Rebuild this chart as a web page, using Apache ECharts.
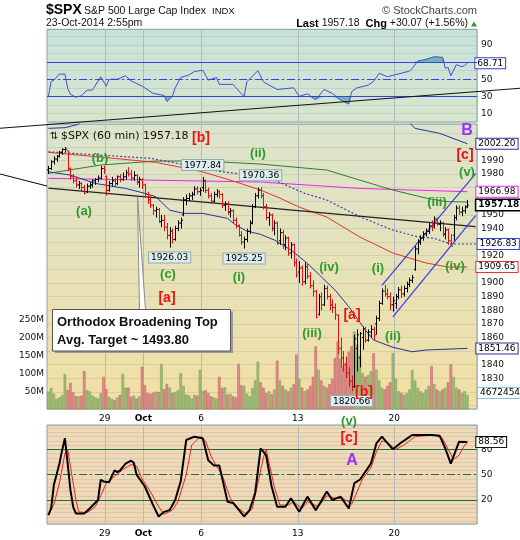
<!DOCTYPE html>
<html><head><meta charset="utf-8">
<script src="https://cdn.jsdelivr.net/npm/echarts@6/dist/echarts.min.js"></script>
<style>html,body{margin:0;padding:0;background:#fff}#c{width:520px;height:540px}</style>
</head><body><div id="c"></div><script>
// ---------------- data ----------------
const days = ['24','25','26','29','30','Oct','2','3','6','7','8','9','10','13','14','15','16','17','20','21','22','23'];
const labelDays = ['29','Oct','6','13','20'];

const open = [1983,1984,1989,1991,1993,1996,1998, 1997,1984,1978,1975,1972,1973,1970, 1967,1971,1972,1975,1976,1977,1984,
 1978,1968,1973,1975,1973,1978,1976, 1978,1981,1980,1977,1979,1974,1976, 1972,1965,1961,1957,1953,1954,1945,
 1946,1941,1935,1938,1932,1940,1944, 1950,1961,1962,1964,1965,1969,1967, 1970,1975,1968,1964,1960,1965,1967,
 1965,1957,1958,1952,1953,1946,1942, 1935,1930,1932,1938,1944,1956,1964, 1968,1964,1956,1948,1950,1940,1944,
 1931,1937,1928,1933,1922,1928,1915, 1908,1911,1901,1912,1905,1898,1894, 1877,1890,1884,1896,1890,1884,1882,
 1876,1852,1845,1840,1834,1828,1824, 1852,1845,1860,1866,1858,1864,1866, 1870,1874,1885,1894,1892,1890,1884,
 1885,1890,1895,1892,1896,1899,1902, 1910,1925,1930,1933,1936,1938,1942, 1942,1947,1943,1944,1936,1939,1931,
 1935,1948,1955,1952,1953,1956];
const high = [1986,1990,1993,1994,1997,1999,1999.8, 1997,1985,1980,1978,1975,1974,1972, 1973,1974,1976,1977,1979,1986,1986,
 1979,1975,1978,1977,1979,1980,1981, 1983,1985,1983,1982,1980,1978,1977, 1973,1967,1964,1958,1956,1955,1950,
 1950,1944,1941,1940,1942,1946,1948, 1963,1965,1966,1967,1971,1971,1970, 1977.84,1976,1970,1966,1967,1969,1968,
 1966,1960,1960,1955,1954,1948,1943, 1938,1934,1940,1946,1958,1966,1970, 1970.36,1966,1958,1952,1951,1946,1945,
 1940,1939,1935,1934,1930,1929,1918, 1916,1913,1915,1914,1908,1902,1895, 1892,1893,1898.7,1898,1892,1888,1885,
 1877,1860,1850,1846,1838,1832,1862, 1866,1864,1868,1868,1866,1869,1868, 1876,1887,1896,1898.7,1896,1893,1890,
 1892,1897,1898,1898,1901,1904,1906, 1927,1932,1935,1938,1940,1944,1946, 1949,1948,1946,1945,1941,1940,1936,
 1950,1957,1957,1956,1957,1961];
const low = [1980,1983,1987,1989,1992,1994,1996, 1982,1976,1973,1970,1969,1967,1965, 1966,1969,1970,1972,1974,1976,1980,
 1964,1967,1971,1971,1972,1974,1975, 1976,1978,1975,1975,1972,1970,1969, 1963,1958,1955,1950,1948,1944,1941,
 1938,1932,1926.03,1929,1931,1938,1940, 1949,1957,1960,1961,1964,1965,1964, 1967,1966,1962,1958,1959,1963,1962,
 1955,1953,1950,1948,1944,1940,1934, 1928,1925.25,1930,1936,1943,1955,1962, 1962,1954,1946,1942,1938,1935,1928,
 1928,1925,1924,1920,1918,1912,1904, 1900,1898,1899,1903,1896,1890,1874, 1876,1880,1883,1888,1880,1878,1873,
 1848,1838,1835,1830,1824,1820.66,1823, 1835,1838,1851,1856,1857,1860,1858, 1862,1872,1884,1890,1888,1880,1879,
 1881,1888,1889,1890,1893,1897,1900, 1909,1921,1928,1931,1934,1936,1938, 1940,1942,1938,1934,1932,1928,1926.9,
 1931,1946,1950,1949,1951,1955];
const close = [1984,1989,1991,1993,1996,1998,1998.3, 1984,1978,1975,1972,1973,1970,1966, 1971,1972,1975,1976,1977,1984,1983,
 1968,1973,1975,1973,1978,1976,1978, 1981,1980,1977,1979,1974,1976,1972, 1965,1961,1957,1953,1954,1945,1946,
 1941,1935,1938,1932,1940,1944,1946, 1961,1962,1964,1965,1969,1967,1968, 1975,1968,1964,1960,1965,1967,1965,
 1957,1958,1952,1953,1946,1942,1935, 1930,1932,1938,1944,1956,1964,1968, 1964,1956,1948,1950,1940,1944,1929,
 1937,1928,1933,1922,1928,1915,1906, 1911,1901,1912,1905,1898,1894,1875, 1890,1884,1896,1890,1884,1882,1877,
 1852,1845,1840,1834,1828,1824,1859, 1862,1863,1866,1858,1864,1866,1862, 1874,1885,1894,1892,1890,1884,1887,
 1890,1895,1892,1896,1899,1902,1904, 1925,1930,1933,1936,1938,1942,1941, 1947,1943,1944,1936,1939,1931,1927,
 1948,1955,1952,1953,1956,1957.18];
const volume = [49,59,43,29,33,40,98, 54,73,48,36,36,38,106, 54,50,38,33,30,45,90, 56,35,29,26,33,40,98,
 60,60,35,38,30,36,118, 67,46,43,46,49,48,126, 56,70,60,45,48,53,100, 65,41,38,30,40,38,109,
 50,53,45,36,33,30,90, 59,61,41,43,36,33,126, 67,65,43,36,59,80,132, 75,60,45,50,42,55,135,
 80,65,55,50,60,70,152, 85,60,50,55,65,90,175, 110,80,65,60,70,85,143, 188,140,120,130,160,175,216,
 180,150,100,90,95,105,156, 110,80,60,55,65,75,156, 85,50,45,40,45,55,109, 80,60,50,45,55,65,120,
 70,55,50,55,60,75,125, 90,60,55,45,50,40];

// overlays (bar index, value)
const rsiPts = [[0,29.6],[1,47.5],[2,49],[4,56],[6,56],[7,39.4],[8,32.4],[10,29],[12,30.8],[14,37],[16,37.5],[19,53],[21,42],[22,50],[25,50],[28,54],[30,48],[34,42],[38,33.5],[42,31],[43,24],[45,30],[46,40],[48,52],[51,55],[53,59],[56,60.5],[58,49],[61,52],[62,44],[67,44],[70,33],[71,30],[72,47],[76,60],[78,47],[83,38],[86,39],[89,40],[91,30],[94,33],[97,26],[100,38],[103,33.5],[106,25.6],[109,21],[110,35.5],[112,40],[116,43],[118,47.5],[120,57],[123,53],[128,57],[131,59.5],[132,62.6],[134,71.3],[137,73.3],[140,76.4],[143,75.6],[144,62.6],[145,64],[146,54],[148,67],[150,64.7],[151,66],[152,68.71]];
const redMA = [[0,1995.9],[19,1992.4],[39,1988.5],[55,1982.1],[66,1975.5],[77,1968.2],[84,1962.3],[91,1955.7],[101,1948.4],[113,1933.7],[125,1922.0],[131,1918.3],[137,1914.7],[145,1911.7],[152,1911.7]];
const greenMA = [[0,1980.5],[19,1986.6],[39,1989.5],[56,1989.5],[77,1987.3],[101,1982.9],[113,1975.5],[125,1968.2],[137,1962.3],[144,1959.8],[152,1959.4]];
const dottedMA = [[0,1996.3],[37,1991.5],[63,1981.6],[77,1978.0],[82,1975.5],[93,1965.8],[101,1960.9],[113,1948.6],[125,1938.8],[134,1933.9],[140,1932.8],[146,1928.6],[155,1928.6]];
const lowerBand = [[0,1981.6],[8,1979.2],[17,1973.1],[28,1969.4],[35,1965.8],[39,1963.3],[44,1953.5],[49,1951.1],[56,1951.1],[65,1947.4],[68,1942.5],[72,1938.1],[77,1935.7],[82,1931.5],[88,1924.2],[94,1914.4],[99,1904.6],[104,1894.8],[109,1882.6],[115,1865.5],[118,1858.1],[125,1852.8],[132,1849.5],[137,1850.8],[152,1852.0]];
const upperBand = [[0,2013.5],[6,2014],[11,2016.5],[15,2024],[128,2024],[133,2013.5],[142,2009.8],[152,2002.2]];
const magentaLine = [[0,1976.8],[77,1974.1],[113,1969.4],[152,1967.0]];
const blackTrend = [[0,1969.7],[155,1941.4]];
const channelUp = [[121,1898.3],[155,1980.2]];
const channelLow = [[125,1875.2],[155,1949.4]];
const stochK = [[0,2.2],[1,10],[2,38],[4,63],[5,79],[6,93],[7,63],[8,32],[9,12],[10,4],[13,4],[15,10],[18,20],[19,44],[20,42],[22,41],[24,55],[25,53],[26,55],[28,63],[30,66.5],[31,64],[32,50],[35,36],[38,14],[40,0.5],[42,6],[44,8],[46,20],[48,42],[50,91],[53,95],[56,93],[58,67],[60,61],[62,61],[65,18],[67,16.5],[71,0.5],[73,8],[75,28],[77,81],[79,73],[81,36],[83,12],[86,12],[88,22],[91,6],[94,24],[97,8],[101,30],[103,20],[106,24],[109,10],[111,40],[113,44],[117,63],[119,87],[121,95],[125,80],[128,88],[132,97],[139,97],[142,96],[144,81],[146,63],[149,89],[152,88.56]];
const stochD = [[0,2],[2,15],[4,40],[6,75],[7,80],[8,60],[10,20],[11,6],[14,5],[17,12],[19,25],[21,40],[24,48],[27,56],[30,62],[32,60],[34,45],[37,30],[40,12],[42,3],[45,8],[47,18],[50,50],[52,85],[55,95],[57,90],[59,72],[61,60],[63,50],[66,22],[69,10],[72,3],[74,10],[76,40],[78,70],[79,80],[80,65],[82,35],[84,14],[87,14],[89,18],[92,10],[94,18],[96,15],[98,12],[101,25],[104,22],[107,22],[110,15],[112,30],[114,45],[117,58],[119,77],[121,90],[123,88],[126,80],[129,85],[133,95],[140,97],[143,93],[145,80],[147,68],[149,73],[151,85],[152,87]];
const hiLoMarks = [[56,1977.84,'top'],[77,1970.36,'top'],[44,1926.03,'bottom'],[71,1925.25,'bottom'],[110,1820.66,'bottom']];
const priceLabels = [1830,1840,1860,1870,1880,1890,1900,1920,1940,1950,1980,1990];

// ---------------- build ----------------
const FONT = 'DejaVu Sans';
const AR = 'Liberation Sans';
const cats = [];
days.forEach(d => { for (let h = 0; h < 7; h++) cats.push(d + '_' + h); });
cats.push('pad_1', 'pad_2');
const isMark = v => { const p = String(v).split('_'); return p[1] === '0' && labelDays.includes(p[0]); };
const isUp = i => i === 0 ? close[0] >= open[0] : close[i] >= close[i - 1];
const ohlc = close.map((c, i) => [i, open[i], high[i], low[i], c]);

const grad = (a, b) => new echarts.graphic.LinearGradient(0, 0, 0, 1, [{offset: 0, color: a}, {offset: 1, color: b}]);
const BORDER = '#8ca6aa';
const L = 47, W = 430;

function xAx(gi, show) {
  return {type: 'category', gridIndex: gi, data: cats, boundaryGap: true,
    axisLine: {show: false}, axisTick: {show: false},
    axisLabel: {show: show, interval: (i, v) => isMark(v), fontFamily: FONT, fontSize: 9, color: '#000', margin: 5, padding: [0, 3, 0, 0],
      formatter: v => { const d = v.split('_')[0]; return d === 'Oct' ? '{b|Oct}' : d; },
      rich: {b: {fontWeight: 'bold', fontFamily: FONT, fontSize: 9, color: '#000'}}},
    splitLine: {show: true, interval: (i, v) => isMark(v), lineStyle: {color: '#b2bbbb', width: 1}}};
}
function tag(text, border, bold, offX) {
  return {show: true, formatter: text, offset: [offX, 0], color: '#000', fontFamily: FONT, fontSize: 9,
    fontWeight: bold ? 'bold' : 'normal', backgroundColor: '#fff', borderColor: border, borderWidth: bold ? 1.5 : 1,
    padding: [1, 2, 0, 2], distance: 5};
}
const faint = {lineStyle: {color: 'rgba(90,90,60,0.13)', width: 1}};
const axLab = (list) => ({fontFamily: FONT, fontSize: 9, color: '#111', margin: 4,
  formatter: v => list.includes(Math.round(v * 1000) / 1000) ? String(v) : ''});

function lineS(xi, yi, data, color, width, extra) {
  return Object.assign({type: 'line', xAxisIndex: xi, yAxisIndex: yi, data: data, symbol: 'none', silent: true,
    lineStyle: {color: color, width: width}, z: 4}, extra || {});
}

const option = {
  animation: false,
  backgroundColor: '#fff',
  grid: [
    {left: L, top: 29.3, width: W, height: 92.7, show: true, backgroundColor: grad('#c8e2dc', '#d7e6cd'), borderColor: BORDER, borderWidth: 1},
    {left: L, top: 124, width: W, height: 285, show: true, backgroundColor: grad('#dbe4cd', '#f1dfa4'), borderColor: BORDER, borderWidth: 1},
    {left: L, top: 319.3, width: W, height: 90, show: false},
    {left: L, top: 425, width: W, height: 99, show: true, backgroundColor: grad('#eedbbb', '#efd7b7'), borderColor: BORDER, borderWidth: 1}
  ],
  xAxis: [xAx(0, false), xAx(1, true), Object.assign(xAx(2, false), {splitLine: {show: false}}), xAx(3, true)],
  yAxis: [
    {type: 'value', gridIndex: 0, position: 'right', min: 0, max: 108.4, splitNumber: 11, axisLine: {show: false}, axisTick: {show: false},
      axisLabel: axLab([10, 30, 50, 90]), splitLine: faint},
    {type: 'value', gridIndex: 1, position: 'right', min: 1807.5, max: 2016.7, splitNumber: 21, axisLine: {show: false}, axisTick: {show: false},
      axisLabel: axLab(priceLabels), splitLine: faint},
    {type: 'value', gridIndex: 2, position: 'left', min: 0, max: 250, interval: 50, axisLine: {show: false}, axisTick: {show: false},
      axisLabel: {fontFamily: FONT, fontSize: 9, color: '#111', margin: 3, formatter: v => v ? v + 'M' : ''}, splitLine: {show: false}},
    {type: 'value', gridIndex: 3, position: 'right', min: -8.4, max: 108.8, splitNumber: 23, axisLine: {show: false}, axisTick: {show: false},
      axisLabel: axLab([20, 50, 80]), splitLine: faint}
  ],
  series: [
    // RSI
    lineS(0, 0, rsiPts.map(p => [p[0], Math.max(p[1], 70)]), 'transparent', 0, {areaStyle: {origin: 70, color: '#5aa9a4', opacity: 0.8}, z: 2}),
    lineS(0, 0, rsiPts.map(p => [p[0], Math.min(p[1], 30)]), 'transparent', 0, {areaStyle: {origin: 30, color: '#5aa9a4', opacity: 0.8}, z: 2}),
    lineS(0, 0, rsiPts, '#4050d8', 1, {
      endLabel: tag('68.71', '#3344cc', false, 3),
      markLine: {silent: true, symbol: ['none', 'none'], label: {show: false},
        lineStyle: {color: '#3344dd', width: 1, type: 'solid'},
        data: [{yAxis: 70}, {yAxis: 30}, {yAxis: 50, lineStyle: {type: [8, 3, 2, 3], color: '#3344dd'}}]}
    }),
    // volume
    {type: 'bar', xAxisIndex: 2, yAxisIndex: 2, barCategoryGap: '8%', z: 1, silent: true,
      data: volume.map((v, i) => ({value: v, itemStyle: isUp(i)
        ? {color: '#9fbd7b', borderColor: '#76984f', borderWidth: 0.5}
        : {color: '#dc8c8c', borderColor: '#bd5f5f', borderWidth: 0.5}}))},
    // moving averages and bands
    lineS(1, 1, upperBand, '#26329a', 1, {endLabel: tag('2002.20', '#26329a', false, 4)}),
    lineS(1, 1, magentaLine, '#ee22ee', 1, {endLabel: tag('1966.98', '#ee22ee', false, 4)}),
    lineS(1, 1, greenMA, '#2f7d2f', 1),
    lineS(1, 1, dottedMA, '#3b3fb0', 1, {lineStyle: {color: '#3b3fb0', width: 1.2, type: [2, 2]}, endLabel: tag('1926.83', '#3344cc', false, -3)}),
    lineS(1, 1, redMA, '#e8322a', 1, {endLabel: tag('1909.65', '#e8322a', false, 4)}),
    lineS(1, 1, lowerBand, '#26329a', 1, {endLabel: tag('1851.46', '#26329a', false, 4)}),
    lineS(1, 1, blackTrend, '#222', 1.2),
    lineS(1, 1, channelUp, '#3a3af0', 1.2),
    lineS(1, 1, channelLow, '#3a3af0', 1.2),
    // OHLC bars
    {type: 'custom', xAxisIndex: 1, yAxisIndex: 1, data: ohlc, z: 5, silent: true,
      encode: {x: 0, y: [1, 2, 3, 4]},
      renderItem: function (params, api) {
        const i = api.value(0);
        const h = api.coord([i, api.value(2)]), l = api.coord([i, api.value(3)]);
        const o = api.coord([i, api.value(1)]), c = api.coord([i, api.value(4)]);
        const col = isUp(params.dataIndex) ? '#000' : '#e01010';
        const x = Math.round(h[0]) + 0.5;
        return {type: 'group', children: [
          {type: 'line', shape: {x1: x, y1: h[1], x2: x, y2: l[1]}, style: {stroke: col, lineWidth: 1}},
          {type: 'line', shape: {x1: x - 1.6, y1: o[1], x2: x, y2: o[1]}, style: {stroke: col, lineWidth: 1}},
          {type: 'line', shape: {x1: x, y1: c[1], x2: x + 1.6, y2: c[1]}, style: {stroke: col, lineWidth: 1}}
        ]};
      },
      markPoint: {symbol: 'circle', symbolSize: 0, silent: true,
        data: hiLoMarks.map(m => ({coord: [m[0], m[1]], value: m[1].toFixed(2),
          label: {position: m[2], distance: m[2] === 'top' ? 7 : 5}})).concat([
          {coord: [152, close[152]], value: close[152].toFixed(2),
            label: Object.assign(tag(close[152].toFixed(2), '#000', true, 0), {position: 'right', distance: 9, formatter: '{c}'})}]),
        label: {show: true, formatter: '{c}', fontFamily: FONT, fontSize: 9, color: '#000', backgroundColor: '#dcecef',
          borderColor: '#90acb4', borderWidth: 1, padding: [1, 2, 0, 2]}}},
    // Stochastics
    lineS(3, 3, stochD, '#ee2020', 1),
    lineS(3, 3, stochK, '#000', 2, {
      endLabel: tag('88.56', '#000', false, 4),
      markLine: {silent: true, symbol: ['none', 'none'], label: {show: false}, z: 1,
        lineStyle: {color: '#1d6a35', width: 1, type: 'solid'},
        data: [{yAxis: 80}, {yAxis: 20}, {yAxis: 50, lineStyle: {type: [8, 3, 2, 3], color: '#1d6a35'}}]}
    })
  ],
  graphic: []
};

// ---------------- text / annotations ----------------
const G = option.graphic;
function txt(x, y, text, size, color, weight, align, family) {
  G.push({type: 'text', x: x, y: y, z: 50, silent: true, style: {text: text, fontSize: size, fill: color,
    fontWeight: weight || 'normal', fontFamily: family || AR, align: align || 'left', verticalAlign: 'middle'}});
}
const GREEN = '#2c9a2c', RED = '#ee1111', PURPLE = '#9a33ff';
// header
txt(46, 10.5, '$SPX', 14, '#000', 'bold');
txt(84, 11, 'S&P 500 Large Cap Index', 10.5, '#111');
txt(212, 11.5, 'INDX', 9.5, '#111');
txt(46, 23.5, '23-Oct-2014 2:55pm', 10.5, '#111');
txt(477, 10.5, '© StockCharts.com', 11, '#444', 'normal', 'right');
G.push({type: 'text', x: 468, y: 23.5, z: 50, silent: true, style: {text: '{b|Last} 1957.18  {b|Chg} +30.07 (+1.56%)',
  fontSize: 10.5, fill: '#111', fontFamily: AR, align: 'right', verticalAlign: 'middle',
  rich: {b: {fontWeight: 'bold', fontSize: 11, fontFamily: AR, fill: '#000'}}}});
G.push({type: 'polygon', z: 50, silent: true, shape: {points: [[471, 26.5], [477, 26.5], [474, 21.5]]}, style: {fill: '#2a9a2a'}});
// panel title
txt(50, 136.5, '⇅', 10, '#111', 'normal', 'left', FONT);
txt(61, 136.5, '$SPX (60 min) 1957.18', 11, '#111', 'normal', 'left', FONT);
// long trendlines outside the plotting areas
G.push({type: 'line', z: 45, silent: true, shape: {x1: 0, y1: 128.3, x2: 520, y2: 88.3}, style: {stroke: '#111', lineWidth: 1.1}});
G.push({type: 'polyline', z: 45, silent: true, shape: {points: [[0, 174], [47, 186]]}, style: {stroke: '#111', lineWidth: 1.1}});
// wave labels
const waves = [
  [100, 158, '(b)', GREEN, 13], [84, 211, '(a)', GREEN, 13], [201, 138, '[b]', RED, 14], [258, 153, '(ii)', GREEN, 13],
  [168, 274, '(c)', GREEN, 13], [167, 298, '[a]', RED, 14], [239, 277, '(i)', GREEN, 13], [329, 267, '(iv)', GREEN, 13],
  [312, 333, '(iii)', GREEN, 13], [352, 315, '[a]', RED, 14], [364, 392, '[b]', RED, 14], [378, 268, '(i)', GREEN, 13],
  [393, 336, '(ii)', GREEN, 13], [437, 202, '(iii)', GREEN, 13], [455, 266, '(iv)', GREEN, 13], [467, 172, '(v)', GREEN, 13],
  [465, 155, '[c]', RED, 14], [467, 131, 'B', PURPLE, 16], [349, 421, '(v)', GREEN, 13], [349, 438, '[c]', RED, 14],
  [352, 461, 'A', PURPLE, 16]
];
waves.forEach(w => txt(w[0], w[1], w[2], w[4], w[3], 'bold', 'center'));
// callout
G.push({type: 'polygon', z: 46, silent: true, shape: {points: [[137.5, 197], [139.5, 310], [145.5, 310]]}, style: {fill: '#fff', stroke: '#8a8a8a', lineWidth: 1}});
G.push({type: 'rect', z: 46, silent: true, shape: {x: 55, y: 311.5, width: 178, height: 41.5}, style: {fill: '#9a9a9a'}});
G.push({type: 'rect', z: 47, silent: true, shape: {x: 52.5, y: 309.5, width: 178, height: 41.5}, style: {fill: '#fff', stroke: '#555', lineWidth: 1}});
txt(57, 322.5, 'Orthodox Broadening Top', 13, '#111', 'bold');
txt(57, 340, 'Avg. Target ~ 1493.80', 13, '#111', 'bold');
// volume value tag
G.push({type: 'text', x: 478, y: 393, z: 50, silent: true, style: {text: '4672454', fontSize: 9, fontFamily: FONT, fill: '#000',
  verticalAlign: 'middle', backgroundColor: '#fff', borderColor: '#7fc4e8', borderWidth: 1, padding: [1, 2, 0, 2]}});

const chart = echarts.init(document.getElementById('c'), null, {renderer: 'canvas'});
chart.setOption(option);
</script></body></html>
